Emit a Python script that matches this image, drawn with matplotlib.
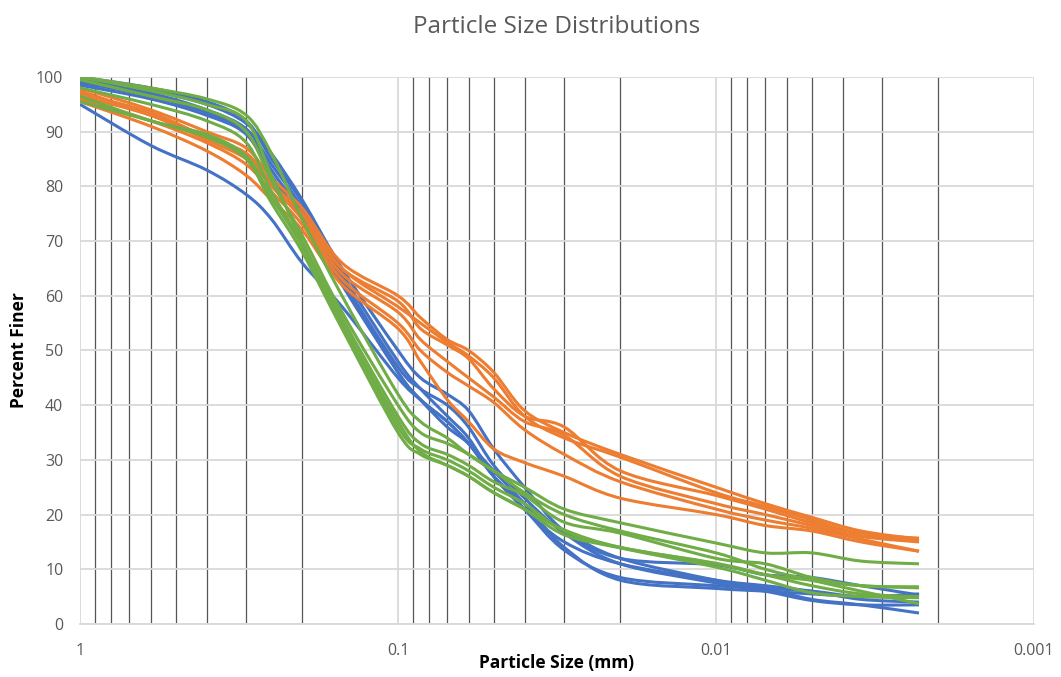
import numpy as np
import matplotlib.pyplot as plt
from matplotlib.path import Path
from matplotlib.patches import PathPatch
from matplotlib.ticker import FixedLocator, FixedFormatter, LogLocator, NullFormatter

plt.rcParams['font.family'] = ['Open Sans', 'DejaVu Sans']

# particle sizes (mm)
sizes = [1.0, 0.6, 0.4, 0.3, 0.25, 0.2, 0.15, 0.1, 0.085, 0.07, 0.06, 0.05, 0.04,
         0.03, 0.02, 0.01, 0.007, 0.005, 0.0035, 0.0023]

# percent finer - blue samples
blue = [
    [95, 87.5, 83, 78.5, 74, 66, 58, 45, 41, 37, 33, 27, 22, 17, 12, 8, 6.5, 4.5, 3.5, 2],
    [99, 97, 94, 90.5, 84, 76, 63, 47, 43, 40, 36, 29, 23, 16.6, 11, 7.5, 6, 4.3, 3.5, 3.5],
    [99.5, 97.5, 95, 91.5, 86, 77.5, 65, 50, 45, 42, 39, 32, 25, 17, 12, 10.8, 9, 8.5, 7, 5.3],
    [98.5, 96, 93, 89.5, 82, 74, 62, 46, 41, 36, 33, 28, 22, 14, 8, 6.5, 6, 5.5, 5, 5],
    [100, 98, 95.5, 92, 85, 77, 64, 48, 43, 38, 34, 27, 21, 13.5, 8.5, 7, 6.5, 6, 5, 5.5],
    [99, 96.5, 93.5, 90, 83, 75, 63, 46, 41, 37, 33, 27, 21, 15, 11, 8, 7, 6, 4.5, 4],
]

# orange samples
orange = [
    [98, 94, 90, 87, 81.5, 76, 66, 60, 56, 52, 50, 46, 39, 35, 31, 25, 22, 19.5, 17, 15.5],
    [97, 93.5, 89, 86, 80.5, 75, 65, 59, 54, 51, 48.5, 43, 38, 36, 28, 23.5, 21, 18.5, 16.5, 15.2],
    [96.5, 93, 88.5, 85, 80, 74, 64, 57, 52, 48, 45, 41.5, 37, 34.5, 27, 22, 20, 18, 16, 15],
    [96, 92, 88, 84, 79, 73, 63, 55, 50, 46, 43.5, 40.5, 35.5, 31, 26, 21, 19, 17.5, 15.5, 13.3],
    [95.5, 91, 86.5, 82, 77.5, 72, 62, 54, 48, 41, 37, 32, 29.5, 27, 23, 20, 18, 17, 15, 13.3],
    [97.5, 93, 89, 86, 80.5, 75, 65, 58, 55, 51.5, 49, 45, 38, 34, 30.5, 24, 21.5, 19, 16.5, 15.7],
]

# green samples
green = [
    [100, 98, 96, 93, 86, 74, 60, 42, 37, 34, 31, 28, 25, 21, 18.5, 14.8, 13, 13, 11.5, 11],
    [100, 97.5, 95, 92, 82, 70, 56, 38, 33, 31, 29, 26, 23.5, 18.6, 16.6, 12, 11, 8.5, 7, 6.8],
    [96.5, 92, 89.5, 85.5, 78, 69, 55, 36, 32, 30, 28, 25, 22, 17, 14, 11, 9, 8, 7, 6.6],
    [95.5, 92, 89, 85, 77, 68, 54, 35, 31, 29, 27, 24, 21, 16.3, 13.9, 10.4, 8, 5.7, 5, 4.8],
    [99.5, 96.5, 94, 90, 81, 71, 57, 40, 35, 33, 31, 28, 24, 20, 17, 13, 10, 8, 6, 3.7],
    [98, 95, 92, 88, 79, 69.5, 55, 37, 31.5, 29, 27, 24, 21, 17.2, 14, 11.1, 9, 7, 5.5, 5],
]


# smoothed line like Excel: cubic bezier through the points, built in log-x space
def smooth_path(x, y):
    u = np.log10(np.asarray(x, dtype=float))
    v = np.asarray(y, dtype=float)
    p = np.column_stack([u, v])
    n = len(p)
    verts = [p[0]]
    codes = [Path.MOVETO]
    for i in range(n - 1):
        p0 = p[i - 1] if i > 0 else p[i]
        p3 = p[i + 2] if i + 2 < n else p[i + 1]
        c1 = p[i] + (p[i + 1] - p0) / 6.0
        c2 = p[i + 1] - (p3 - p[i]) / 6.0
        verts += [c1, c2, p[i + 1]]
        codes += [Path.CURVE4] * 3
    verts = np.array(verts)
    verts[:, 0] = 10 ** verts[:, 0]
    return Path(verts, codes)


fig = plt.figure(figsize=(10.61, 6.77), dpi=100)
ax = fig.add_axes([0.0754, 0.0783, 0.8992, 0.808])

ax.set_xscale('log')
ax.set_xlim(1, 0.001)
ax.set_ylim(0, 100)

for data, c in [(blue, '#4472C4'), (orange, '#ED7D31'), (green, '#70AD47')]:
    for row in data:
        ax.add_patch(PathPatch(smooth_path(sizes, row), fill=False, edgecolor=c,
                               lw=2.2, capstyle='butt', joinstyle='round', zorder=3))

ax.set_yticks(range(0, 101, 10))
ax.xaxis.set_major_locator(FixedLocator([1, 0.1, 0.01, 0.001]))
ax.xaxis.set_major_formatter(FixedFormatter(['1', '0.1', '0.01', '0.001']))
ax.xaxis.set_minor_locator(LogLocator(base=10, subs=np.arange(2, 10)))
ax.xaxis.set_minor_formatter(NullFormatter())

ax.grid(True, which='major', color='#d9d9d9', lw=1.3, zorder=0)
ax.grid(True, which='minor', axis='x', color='#555555', lw=0.9, zorder=1)
ax.set_axisbelow(True)

for s in ['top', 'right', 'left']:
    ax.spines[s].set_visible(False)
ax.spines['bottom'].set_color('#d9d9d9')
ax.spines['bottom'].set_linewidth(1.3)
ax.tick_params(which='both', length=0, colors='#595959', labelsize=11.5)
ax.tick_params(axis='x', pad=14)
ax.tick_params(axis='y', pad=12)

ax.set_title('Particle Size Distributions', fontsize=17.5, color='#595959', pad=32)
ax.set_xlabel('Particle Size (mm)', fontsize=12.5, fontweight='bold', labelpad=-4)
ax.set_ylabel('Percent Finer', fontsize=12.5, fontweight='bold', labelpad=6)

fig.savefig('out.png', dpi=100)
